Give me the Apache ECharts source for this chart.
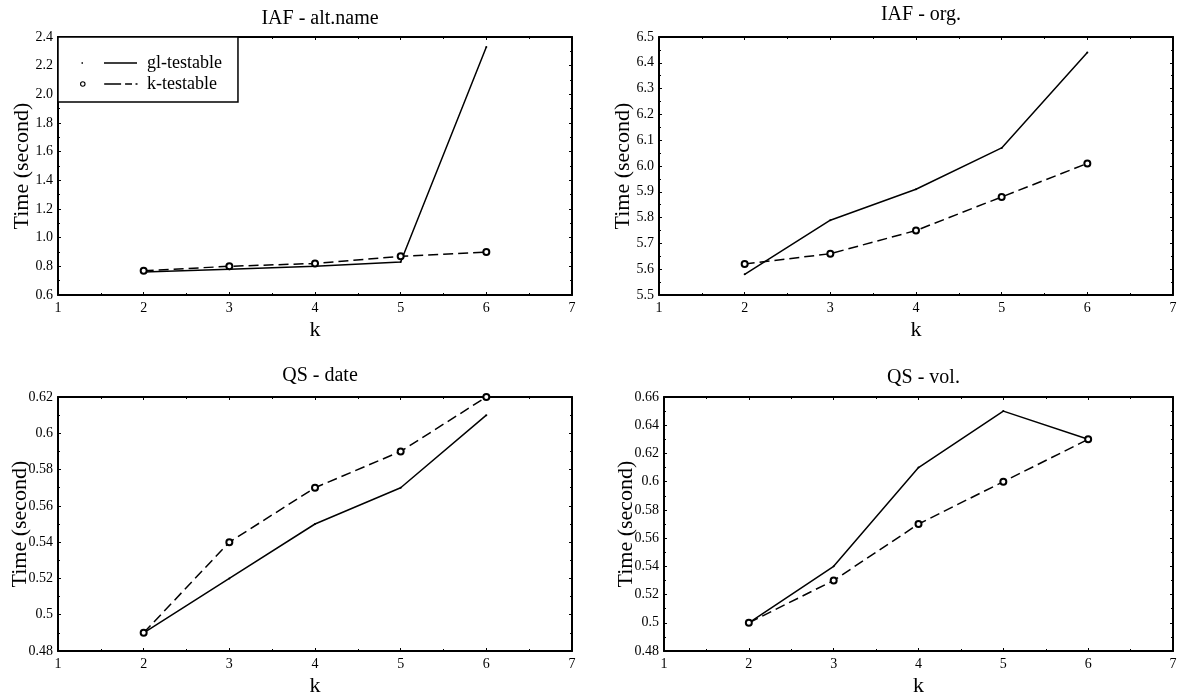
<!DOCTYPE html>
<html><head><meta charset="utf-8">
<script src="https://cdn.jsdelivr.net/npm/echarts@6/dist/echarts.min.js"></script>
<style>html,body{margin:0;padding:0;background:#fff}#c{width:1186px;height:698px}</style>
</head><body><div id="c"></div>
<script>
const kValues = [2, 3, 4, 5, 6];
const titles = ['IAF - alt.name', 'IAF - org.', 'QS - date', 'QS - vol.'];
const glAlt = [0.76, 0.78, 0.80, 0.83, 2.33];
const kAlt = [0.77, 0.80, 0.82, 0.87, 0.90];
const glOrg = [5.58, 5.79, 5.91, 6.07, 6.44];
const kOrg = [5.62, 5.66, 5.75, 5.88, 6.01];
const glDate = [0.49, 0.52, 0.55, 0.57, 0.61];
const kDate = [0.49, 0.54, 0.57, 0.59, 0.62];
const glVol = [0.50, 0.54, 0.61, 0.65, 0.63];
const kVol = [0.50, 0.53, 0.57, 0.60, 0.63];
const yRanges = [[0.6, 2.4, 0.2], [5.5, 6.5, 0.1], [0.48, 0.62, 0.02], [0.48, 0.66, 0.02]];
const yDecimals = [1, 1, null, null];
const glSets = [glAlt, glOrg, glDate, glVol];
const kSets = [kAlt, kOrg, kDate, kVol];

const FONT = 'Liberation Serif';
const grids = [
  {left: 58, top: 37, width: 514, height: 258},
  {left: 659, top: 37, width: 514, height: 258},
  {left: 58, top: 397, width: 514, height: 257},
  {left: 664, top: 397, width: 509, height: 257}
];
const titleTops = [4, 0, 361, 363];
const yNameGaps = [25, 25, 27, 27];

// legend icons: marker on the left, line sample to the right (as in the reference)
const glIcon = 'path://M0 0 h60 v0.01 h-60 Z M1.5 4.3 h1.5 v1.4 h-1.5 Z M24 4.35 h33 v1.3 h-33 Z M0 10 h60 v-0.01 h-60 Z';
const kIcon = 'path://M0 0 h60 v0.01 h-60 Z M-0.3 5 A2.8 2.8 0 1 0 5.3 5 A2.8 2.8 0 1 0 -0.3 5 Z M0.8 5 A1.7 1.7 0 1 1 4.2 5 A1.7 1.7 0 1 1 0.8 5 Z M24 4.35 h17 v1.3 h-17 Z M45 4.35 h7 v1.3 h-7 Z M55.5 4.35 h2 v1.3 h-2 Z M0 10 h60 v-0.01 h-60 Z';

const xAxis = [], yAxis = [], series = [], title = [];
grids.forEach((g, i) => {
  title.push({text: titles[i], left: g.left + g.width / 2, top: titleTops[i], textAlign: 'center',
    textStyle: {fontFamily: FONT, fontSize: 20, fontWeight: 'normal', color: '#000'}});
  const axBase = {type: 'value', gridIndex: i, min: 1, max: 7, interval: 1,
    axisLine: {lineStyle: {color: '#000', width: 2}},
    axisTick: {inside: true, length: 3, lineStyle: {color: '#000'}},
    minorTick: {show: true, splitNumber: 2, length: 2, lineStyle: {color: '#000'}},
    splitLine: {show: false}};
  xAxis.push(Object.assign({}, axBase, {position: 'bottom', name: 'k', nameLocation: 'middle', nameGap: 24,
    nameMoveOverlap: false,
    nameTextStyle: {fontFamily: FONT, fontSize: 22, color: '#000'},
    axisLabel: {fontFamily: FONT, fontSize: 14, color: '#000', margin: 6}}));
  xAxis.push(Object.assign({}, axBase, {position: 'top', axisLabel: {show: false}}));
  const [mn, mx, iv] = yRanges[i];
  const dec = yDecimals[i];
  const yBase = {type: 'value', gridIndex: i, min: mn, max: mx, interval: iv,
    axisLine: {lineStyle: {color: '#000', width: 2}},
    axisTick: {inside: true, length: 3, lineStyle: {color: '#000'}},
    minorTick: {show: true, splitNumber: 2, length: 2, lineStyle: {color: '#000'}},
    splitLine: {show: false}};
  yAxis.push(Object.assign({}, yBase, {position: 'left', name: 'Time (second)', nameLocation: 'middle',
    nameGap: yNameGaps[i], nameMoveOverlap: false,
    nameTextStyle: {fontFamily: FONT, fontSize: 22, color: '#000'},
    axisLabel: {fontFamily: FONT, fontSize: 14, color: '#000', margin: 5,
      formatter: v => dec != null ? v.toFixed(dec) : String(parseFloat(v.toFixed(4)))}}));
  yAxis.push(Object.assign({}, yBase, {position: 'right', axisLabel: {show: false}}));
  series.push({name: 'gl-testable', type: 'line', xAxisIndex: 2 * i, yAxisIndex: 2 * i,
    data: kValues.map((k, j) => [k, glSets[i][j]]), symbol: 'circle', symbolSize: 2,
    itemStyle: {color: '#000'}, lineStyle: {color: '#000', width: 1.5, type: 'solid'}, z: 3});
  series.push({name: 'k-testable', type: 'line', xAxisIndex: 2 * i, yAxisIndex: 2 * i,
    data: kValues.map((k, j) => [k, kSets[i][j]]), symbol: 'emptyCircle', symbolSize: 6,
    itemStyle: {color: '#000', borderWidth: 1.3}, lineStyle: {color: '#000', width: 1.5, type: [10, 5]}, z: 4});
});

const chart = echarts.init(document.getElementById('c'), null, {renderer: 'canvas'});
chart.setOption({
  animation: false,
  backgroundColor: '#fff',
  title,
  legend: {data: [{name: 'gl-testable', icon: glIcon}, {name: 'k-testable', icon: kIcon}],
    left: 58, top: 37, orient: 'vertical',
    borderColor: '#000', borderWidth: 1.5, backgroundColor: '#fff', padding: [17, 16, 9, 22],
    itemGap: 3, itemWidth: 60, itemHeight: 10, symbolKeepAspect: false,
    itemStyle: {color: '#000', borderWidth: 0},
    textStyle: {fontFamily: FONT, fontSize: 18, color: '#000', padding: [0, 0, 0, 2]}, z: 10},
  grid: grids,
  xAxis, yAxis, series
});
</script></body></html>
